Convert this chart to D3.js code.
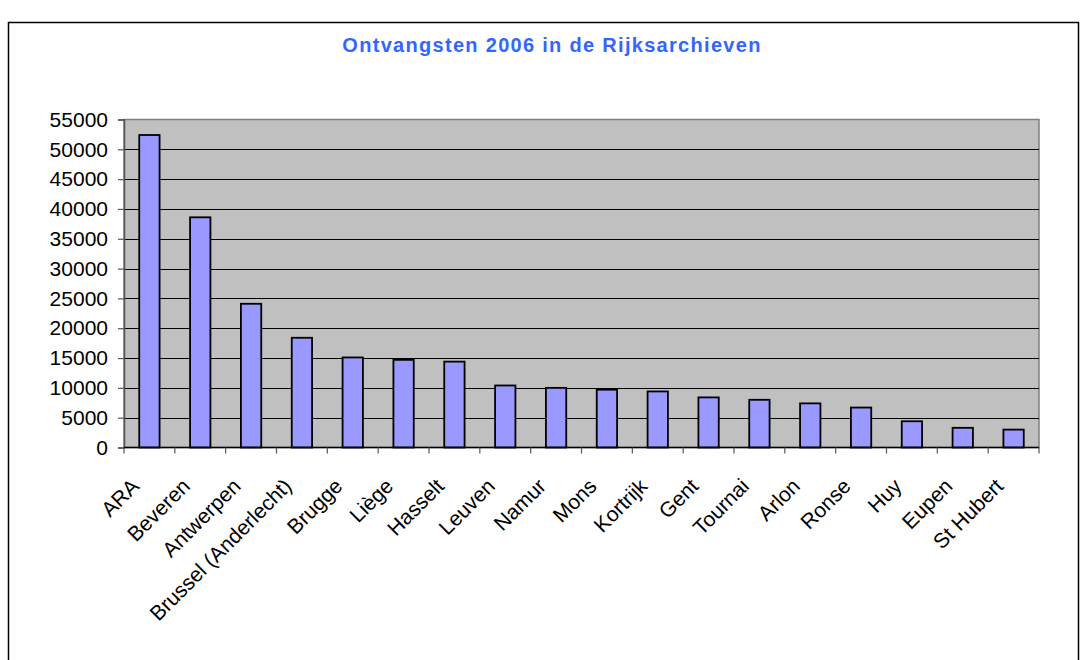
<!DOCTYPE html>
<html>
<head>
<meta charset="utf-8">
<script src="https://cdn.jsdelivr.net/npm/d3@7"></script>
<style>
  html, body { margin: 0; padding: 0; background: #fff; }
  svg { display: block; }
  text { font-family: "Liberation Sans", Arial, sans-serif; }
</style>
</head>
<body>
<svg id="chart" width="1082" height="660"></svg>
<script>
// Ontvangsten per rijksarchief, 2006
const categories = ["ARA", "Beveren", "Antwerpen", "Brussel (Anderlecht)", "Brugge", "Liège",
  "Hasselt", "Leuven", "Namur", "Mons", "Kortrijk", "Gent", "Tournai", "Arlon", "Ronse",
  "Huy", "Eupen", "St Hubert"];
const values = [52400, 38600, 24100, 18400, 15100, 14700, 14400, 10400, 10000, 9700, 9400,
  8400, 8000, 7400, 6700, 4400, 3300, 3000];
const yTicks = [0, 5000, 10000, 15000, 20000, 25000, 30000, 35000, 40000, 45000, 50000, 55000];
const title = "Ontvangsten 2006 in de Rijksarchieven";

const svg = d3.select("#chart");

// outer chart frame
svg.append("rect")
  .attr("x", 8.5).attr("y", 22.5)
  .attr("width", 1070).attr("height", 660)
  .attr("fill", "#fff").attr("stroke", "#000").attr("stroke-width", 1.5);

svg.append("text")
  .attr("x", 552).attr("y", 52)
  .attr("text-anchor", "middle")
  .attr("fill", "#3366FF")
  .attr("font-size", 20).attr("font-weight", "bold")
  .attr("letter-spacing", 1.3)
  .text(title);

const plot = { left: 124, right: 1039, top: 119.5, bottom: 447.5 };

const x = d3.scaleBand()
  .domain(categories)
  .range([plot.left, plot.right])
  .paddingInner(0.6).paddingOuter(0.3);

const y = d3.scaleLinear()
  .domain([0, 55000])
  .range([plot.bottom, plot.top]);

// plot area
svg.append("rect")
  .attr("x", plot.left).attr("y", plot.top)
  .attr("width", plot.right - plot.left).attr("height", plot.bottom - plot.top)
  .attr("fill", "#C0C0C0").attr("stroke", "#808080").attr("stroke-width", 1.5);

// horizontal gridlines
svg.append("g")
  .selectAll("line")
  .data(yTicks.filter(d => d > 0 && d < 55000))
  .join("line")
  .attr("x1", plot.left).attr("x2", plot.right)
  .attr("y1", d => Math.round(y(d)) + 0.5).attr("y2", d => Math.round(y(d)) + 0.5)
  .attr("stroke", "#000").attr("stroke-width", 1);

// bars
svg.append("g")
  .selectAll("rect")
  .data(values)
  .join("rect")
  .attr("x", (d, i) => x(categories[i]))
  .attr("y", d => y(d))
  .attr("width", x.bandwidth())
  .attr("height", d => y(0) - y(d))
  .attr("fill", "#9999FF")
  .attr("stroke", "#000").attr("stroke-width", 1.8);

// y axis
const yAxis = svg.append("g")
  .attr("transform", `translate(${plot.left},0)`)
  .call(d3.axisLeft(y).tickValues(yTicks).tickSize(6).tickPadding(10).tickFormat(d3.format("d")));
yAxis.select(".domain").attr("stroke", "#555").attr("stroke-width", 1.5);
yAxis.selectAll(".tick line").attr("stroke", "#555").attr("stroke-width", 1.2);
yAxis.selectAll(".tick text")
  .attr("font-size", 21).attr("fill", "#000")
  .attr("font-family", "'Liberation Sans', Arial, sans-serif");

// x axis: ticks between categories
const xAxisG = svg.append("g");
xAxisG.append("line")
  .attr("x1", plot.left).attr("x2", plot.right)
  .attr("y1", plot.bottom).attr("y2", plot.bottom)
  .attr("stroke", "#000").attr("stroke-width", 1.5);
const bounds = d3.range(categories.length + 1).map(i => plot.left + i * (plot.right - plot.left) / categories.length);
xAxisG.selectAll("line.tick")
  .data(bounds)
  .join("line")
  .attr("class", "tick")
  .attr("x1", d => d).attr("x2", d => d)
  .attr("y1", plot.bottom).attr("y2", plot.bottom + 6)
  .attr("stroke", "#555").attr("stroke-width", 1.2);

// rotated category labels
xAxisG.selectAll("text")
  .data(categories)
  .join("text")
  .attr("transform", d => `translate(${x(d) + x.bandwidth() / 2 - 9},${plot.bottom + 40}) rotate(-45)`)
  .attr("text-anchor", "end")
  .attr("font-size", 21)
  .attr("fill", "#000")
  .text(d => d);
</script>
</body>
</html>
